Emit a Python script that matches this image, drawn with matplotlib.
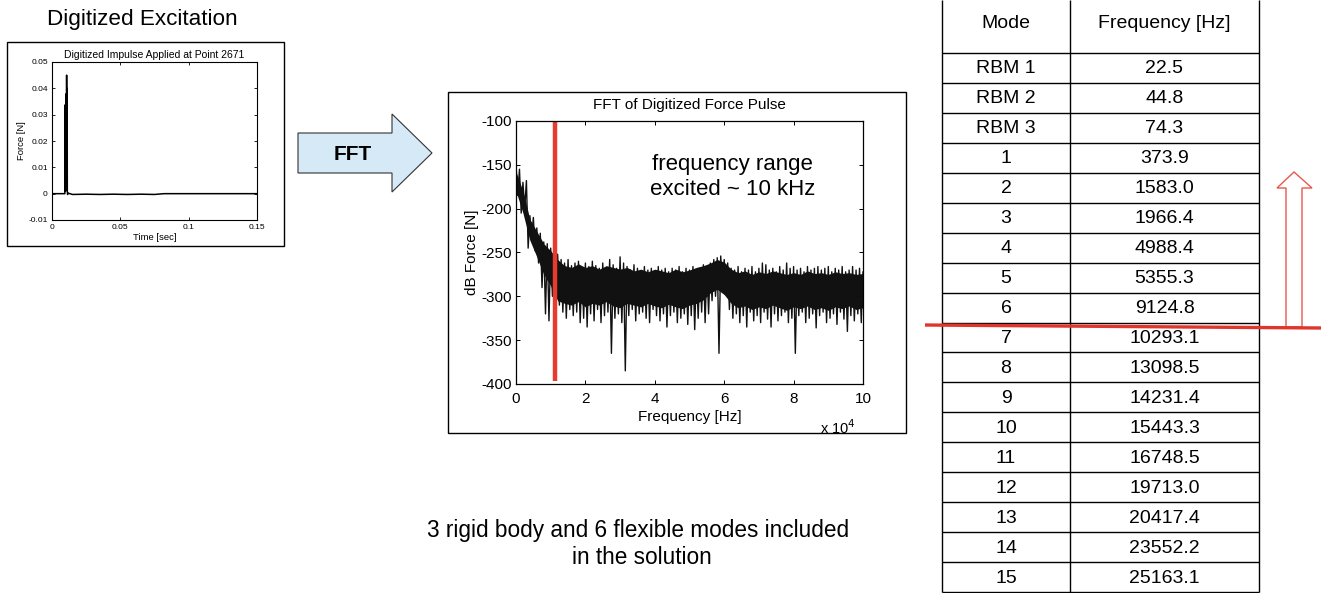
import numpy as np
import matplotlib
matplotlib.use("Agg")
import matplotlib.pyplot as plt
from matplotlib.patches import Polygon, Rectangle

plt.rcParams['font.family'] = ['Liberation Sans', 'DejaVu Sans']
plt.rcParams['axes.unicode_minus'] = False

W, H = 1325, 593

# ---- digitized impulse (time [s], force [N]) ----
impulse_t = [0, 0.0094, 0.0095, 0.0096, 0.0097, 0.0098, 0.0099, 0.0100, 0.0101, 0.0102,
             0.0103, 0.0104, 0.0105, 0.0106, 0.0107, 0.0108, 0.0109, 0.0110, 0.0111,
             0.0112, 0.0114, 0.0118, 0.015, 0.025, 0.035, 0.045, 0.055, 0.065, 0.075,
             0.082, 0.15]
impulse_f = [0, 0, 0.033, 0.001, 0.0335, 0.002, 0.034, 0.001, 0.033, 0.003,
             0.034, 0.002, 0.038, 0.004, 0.045, 0.003, 0.040, 0.002, 0.039,
             0.001, -0.0003, 0.0002, -0.0003, -0.0002, -0.0003, -0.0002, -0.0003, -0.0002,
             -0.0003, 0, 0]

# ---- FFT envelope, one value per kHz (upper peaks, lower dips) [dB] ----
fft_khz = np.arange(0, 101)
fft_hi = [-150, -155, -170, -168, -208, -210, -222, -228, -238, -240,
          -245, -250, -252, -258, -262, -258, -265, -262, -260, -268,
          -262, -266, -260, -265, -268, -262, -270, -258, -264, -268,
          -255, -262, -266, -270, -264, -268, -272, -266, -270, -268,
          -272, -266, -270, -268, -272, -268, -270, -266, -272, -268,
          -270, -266, -270, -268, -264, -266, -262, -258, -256, -254,
          -258, -262, -268, -270, -266, -272, -268, -270, -266, -272,
          -268, -262, -264, -270, -268, -272, -266, -270, -262, -268,
          -266, -270, -268, -272, -266, -270, -268, -266, -270, -268,
          -266, -272, -268, -270, -266, -272, -270, -266, -270, -268,
          -272]
fft_lo = [-185, -205, -200, -245, -235, -248, -262, -290, -320, -328,
          -300, -305, -310, -318, -325, -315, -322, -318, -330, -325,
          -335, -320, -328, -315, -330, -322, -318, -365, -325, -320,
          -330, -385, -322, -315, -328, -320, -318, -325, -330, -315,
          -322, -328, -320, -335, -322, -318, -330, -325, -320, -332,
          -322, -338, -325, -318, -330, -320, -305, -300, -365, -292,
          -298, -315, -325, -320, -330, -322, -335, -318, -328, -322,
          -330, -318, -326, -335, -320, -328, -322, -318, -330, -325,
          -365, -322, -318, -330, -325, -320, -336, -322, -318, -330,
          -325, -320, -332, -318, -326, -340, -322, -328, -320, -330,
          -315]
# solid part of the noise band, one value per 2 kHz [dB]
core_khz = np.arange(0, 101, 2)
core_top = [-158, -180, -212, -226, -240, -248, -258, -265, -267, -263,
            -267, -265, -269, -265, -267, -269, -267, -271, -269, -272,
            -269, -271, -273, -269, -272, -270, -267, -265, -262, -258,
            -261, -269, -273, -271, -275, -272, -274, -271, -273, -275,
            -273, -275, -271, -274, -273, -275, -272, -274, -273, -275, -274]
core_bot = [-180, -205, -236, -255, -275, -288, -305, -308, -310, -306,
            -312, -308, -310, -306, -311, -313, -308, -310, -312, -308,
            -311, -313, -309, -312, -314, -310, -308, -304, -296, -292,
            -298, -308, -313, -311, -315, -312, -314, -310, -313, -316,
            -312, -314, -311, -315, -313, -316, -312, -314, -311, -315, -313]
cutoff_hz = 11250

# ---- mode table ----
modes = ['RBM 1', 'RBM 2', 'RBM 3', '1', '2', '3', '4', '5', '6', '7',
         '8', '9', '10', '11', '12', '13', '14', '15']
freqs = ['22.5', '44.8', '74.3', '373.9', '1583.0', '1966.4', '4988.4', '5355.3',
         '9124.8', '10293.1', '13098.5', '14231.4', '15443.3', '16748.5', '19713.0',
         '20417.4', '23552.2', '25163.1']

fig = plt.figure(figsize=(W / 100, H / 100), dpi=100)


def px_axes(l, t, r, b):
    return fig.add_axes([l / W, 1 - b / H, (r - l) / W, (b - t) / H])


# background layer in pixel coordinates
bg = px_axes(0, 0, W, H)
bg.set_xlim(0, W)
bg.set_ylim(H, 0)
bg.axis('off')

# frames around the two plots
bg.add_patch(Rectangle((7, 42), 277, 204, fill=False, ec='black', lw=1))
bg.add_patch(Rectangle((448, 92), 458, 341, fill=False, ec='black', lw=1))
bg.text(142, 20, 'Digitized Excitation', ha='center', va='center', fontsize=16.2)

# FFT arrow
bg.add_patch(Polygon([(298, 133), (392, 133), (392, 114), (432, 153), (392, 192),
                      (392, 173), (298, 173)], closed=True, fc='#d6e9f6', ec='#333333', lw=0.8))
bg.text(353, 154, 'FFT', ha='center', va='center', fontsize=15, fontweight='bold')

bg.text(638, 531, '3 rigid body and 6 flexible modes included', ha='center', va='center',
        fontsize=16.3)
bg.text(642, 557, 'in the solution', ha='center', va='center', fontsize=16.3)

# table
tl, tm, tr = 942, 1070, 1259
head_b, tab_b = 53, 592
row_h = (tab_b - head_b) / len(modes)
bg.vlines([tl, tm, tr], 0, tab_b, color='black', lw=1)
bg.hlines([head_b + i * row_h for i in range(len(modes) + 1)], tl, tr, color='black', lw=1)
bg.text((tl + tm) / 2, 23, 'Mode', ha='center', va='center', fontsize=14)
bg.text((tm + tr) / 2, 23, 'Frequency [Hz]', ha='center', va='center', fontsize=14)
for i, (m, f) in enumerate(zip(modes, freqs)):
    yc = head_b + (i + 0.5) * row_h + 1
    bg.text((tl + tm) / 2, yc, m, ha='center', va='center', fontsize=14)
    bg.text((tm + tr) / 2, yc, f, ha='center', va='center', fontsize=14)

# cutoff line and hollow arrow
bg.plot([925, 1321], [325, 328], color='#e0352b', lw=2.4, solid_capstyle='butt')
bg.add_patch(Polygon([(1286, 327), (1286, 188), (1277, 188), (1294, 172), (1312, 188),
                      (1302, 188), (1302, 327)], closed=True, fc='white', ec='#e8584f', lw=1))

# ---- small impulse plot ----
ax1 = px_axes(52, 62, 257, 220)
ax1.plot(impulse_t, impulse_f, color='black', lw=1.1)
ax1.set_xlim(0, 0.15)
ax1.set_ylim(-0.01, 0.05)
ax1.set_xticks([0, 0.05, 0.1, 0.15])
ax1.set_xticklabels(['0', '0.05', '0.1', '0.15'])
ax1.set_yticks([-0.01, 0, 0.01, 0.02, 0.03, 0.04, 0.05])
ax1.set_yticklabels(['-0.01', '0', '0.01', '0.02', '0.03', '0.04', '0.05'])
ax1.tick_params(direction='in', top=True, right=True, length=2, width=0.6,
                labelsize=6, pad=3)
ax1.set_title('Digitized Impulse Applied at Point 2671', fontsize=7.5, pad=3)
ax1.set_xlabel('Time [sec]', fontsize=6.8, labelpad=1.5)
ax1.set_ylabel('Force [N]', fontsize=6.8, labelpad=2)
for s in ax1.spines.values():
    s.set_linewidth(0.8)

# ---- FFT plot ----
ax2 = px_axes(516, 121, 863, 384)
zx = np.empty(2 * len(fft_khz))
zy = np.empty(2 * len(fft_khz))
zx[0::2] = fft_khz * 1000
zx[1::2] = (fft_khz + 0.5) * 1000
zy[0::2] = fft_hi
zy[1::2] = fft_lo
ax2.fill_between(core_khz * 1000, core_top, core_bot, color='#111111', lw=0)
ax2.plot(zx, zy, color='#111111', lw=1.0)
ax2.vlines(cutoff_hz, -397, -100, color='#e63b2e', lw=3.2)
ax2.set_xlim(0, 100000)
ax2.set_ylim(-400, -100)
ax2.set_xticks(np.arange(0, 100001, 20000))
ax2.set_xticklabels(['0', '2', '4', '6', '8', '10'])
ax2.set_yticks(np.arange(-400, -99, 50))
ax2.tick_params(direction='in', top=True, right=True, length=3, width=0.7,
                labelsize=11, pad=6)
ax2.tick_params(axis='y', pad=3)
ax2.set_title('FFT of Digitized Force Pulse', fontsize=11, pad=9)
ax2.set_xlabel('Frequency [Hz]', fontsize=11, labelpad=3)
ax2.set_ylabel('dB Force [N]', fontsize=11, labelpad=2)
ax2.text(0.98, -0.165, 'x 10$^4$', transform=ax2.transAxes, ha='right', va='center',
         fontsize=10.5)
ax2.text(0.624, 0.787, 'frequency range\nexcited ~ 10 kHz', transform=ax2.transAxes,
         ha='center', va='center', fontsize=16, linespacing=1.3)
for s in ax2.spines.values():
    s.set_linewidth(0.9)

fig.savefig('out.png', dpi=100)
